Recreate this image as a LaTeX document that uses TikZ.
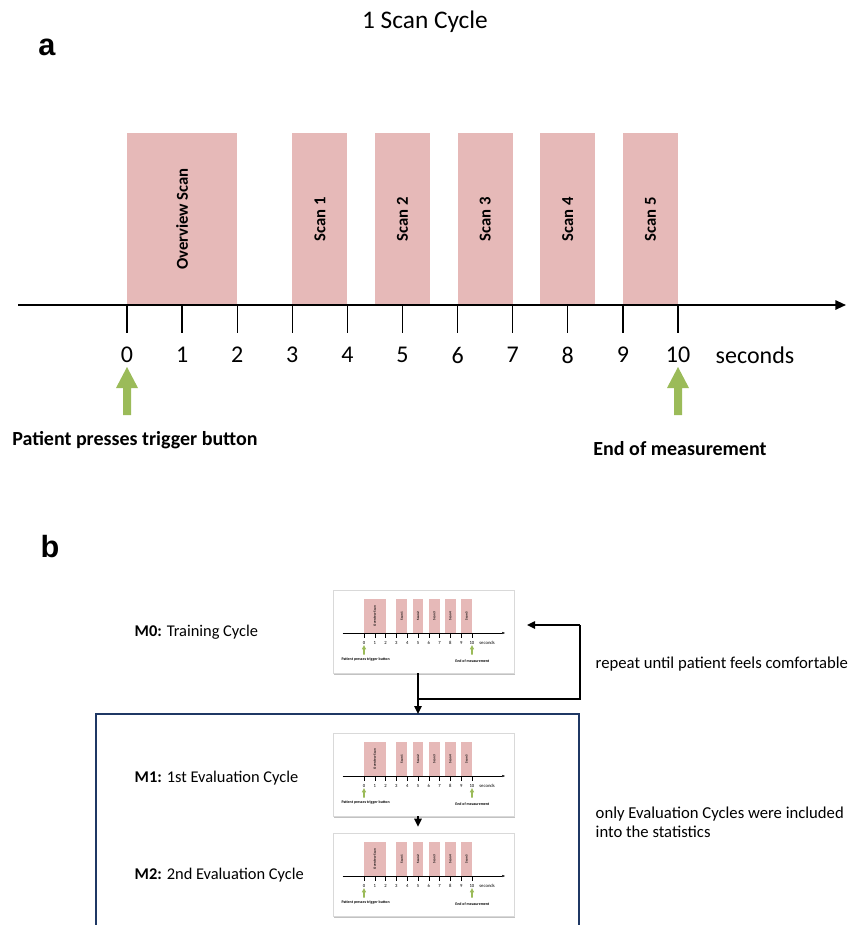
\documentclass[tikz,border=0pt]{standalone}
\usepackage{fontspec}
\setmainfont{Carlito}
\newfontfamily\arialfont{Liberation Sans}
\usetikzlibrary{arrows.meta,shadows,calc}
\definecolor{scanpink}{HTML}{E6B9B8}
\definecolor{arrgreen}{HTML}{9BBB59}
\definecolor{navyline}{HTML}{1F3864}
\newcommand{\scanpanel}[1]{%
  \foreach \sa/\sb/\lab/\nm in {0/2/Overview Scan/ov,3/4/Scan 1/s1,4.5/5.5/Scan 2/s2,6/7/Scan 3/s3,7.5/8.5/Scan 4/s4,9/10/Scan 5/s5}{
    \fill[scanpink] ({127+55.1*\sa},133) rectangle ({127+55.1*\sb},305);
    \node[scanlabel] (#1\nm) at ({127+55.1*(\sa+\sb)/2},219) {\lab};
  }
  \coordinate (#1axs) at (18,305);
  \coordinate (#1axe) at (846,305);
  \draw[axisline] (#1axs) -- (#1axe);
  \foreach \i in {0,...,10}{
    \coordinate (#1k\i) at ({127+55.1*\i},305);
    \draw[tickline] (#1k\i) -- ++(0,28);
    \node[ticklabel] (#1l\i) at ({127+55.1*\i},355) {\i};
  }
  \node[ticklabel] (#1sec) at (755,355) {seconds};
  \foreach \xx in {127,678}{
    \fill[arrgreen] (\xx,367) -- ++(11,21) -- ++(-7,0) -- ++(0,27) -- ++(-8,0) -- ++(0,-27) -- ++(-7,0) -- cycle;
  }
  \node[eventlabel] (#1trig) at (135,440) {Patient presses trigger button};
  \node[eventlabel] (#1end) at (680,449) {End of measurement};
}
\begin{document}
\begin{tikzpicture}[x=0.75pt,y=-0.75pt,
  scanlabel/.style={rotate=90, font=\bfseries\fontsize{12.5}{14}\selectfont},
  ticklabel/.style={font=\fontsize{18}{20}\selectfont},
  eventlabel/.style={font=\bfseries\fontsize{15}{17}\selectfont},
  axisline/.style={line width=1.4pt, -{Triangle[length=8pt,width=7pt]}},
  tickline/.style={line width=1pt},
  thumb/.style={draw=gray!30, fill=white, minimum width=135.75pt, minimum height=62.25pt, inner sep=0pt,
    drop shadow={shadow xshift=1pt, shadow yshift=-1.6pt, fill=gray!80, opacity=.6}},
  thumbscale/.style={scale=0.196, transform shape,
    axisline/.style={line width=0.3pt, -{Triangle[length=2pt,width=1.6pt]}},
    tickline/.style={line width=0.2pt}},
  flow/.style={line width=1.1pt, -{Triangle[length=6pt,width=5.5pt]}},
  mlabel/.style={anchor=west, font=\fontsize{12.3}{14}\selectfont},
  note/.style={anchor=west, align=left, font=\fontsize{12.5}{14.3}\selectfont},
  panel/.style={font=\arialfont\bfseries\fontsize{23}{25}\selectfont}
]
\useasboundingbox (0,0) rectangle (857,925);
% ---------- panel a ----------
\node[font=\fontsize{19}{21}\selectfont] (title) at (425,22) {1 Scan Cycle};
\node[panel] (pa) at (47,47) {a};
\scanpanel{A}
% ---------- panel b ----------
\node[panel] (pb) at (50,547) {b};
% box
\coordinate (bl) at (96,926);
\coordinate (tl) at (96,714);
\coordinate (tr) at (579,714);
\coordinate (br) at (579,926);
\draw[navyline, line width=1.8pt] (bl) -- (tl) -- (tr) -- (br);
% thumbnails
\node[thumb] (m0) at (423.5,631.5) {};
\begin{scope}[shift={(339.1,573.2)}, thumbscale]\scanpanel{B}\end{scope}
\node[thumb] (m1) at (423.5,774.5) {};
\begin{scope}[shift={(339.1,716.2)}, thumbscale]\scanpanel{C}\end{scope}
\node[thumb] (m2) at (423.5,874.5) {};
\begin{scope}[shift={(339.1,816.2)}, thumbscale]\scanpanel{D}\end{scope}
% connectors
\coordinate (jx) at (418,0);
\coordinate (lp) at (418,699);
\coordinate (lc1) at (580,699);
\coordinate (lc2) at (580,625);
\coordinate (lt) at (527,625);
\draw[flow] (m0.south -| jx) -- (tl -| jx);
\draw[flow, -] (lp) -- (lc1) -- (lc2);
\draw[flow] (lc2) -- (lt);
\draw[flow] (m1.south -| jx) -- ($(m2.north -| jx)+(0,-6)$);
% labels
\node[mlabel] (t0) at (130,632) {\textbf{M0:} Training Cycle};
\node[mlabel] (t1) at (130,778) {\textbf{M1:} 1st Evaluation Cycle};
\node[mlabel] (t2) at (130,875) {\textbf{M2:} 2nd Evaluation Cycle};
\node[note] (rep) at (591,664) {repeat until patient feels comfortable};
\node[note] (only) at (591,822) {only Evaluation Cycles were included\\into the statistics};
\end{tikzpicture}
\end{document}
